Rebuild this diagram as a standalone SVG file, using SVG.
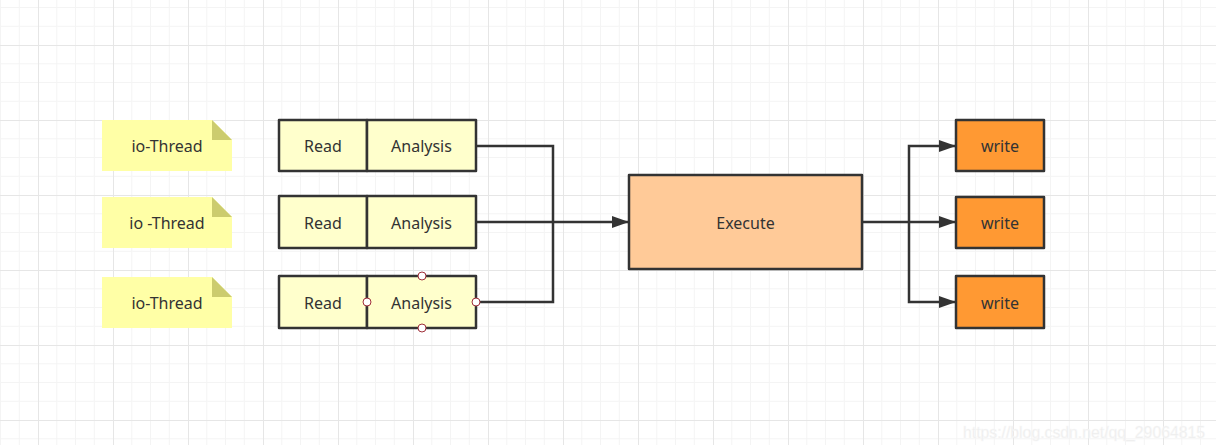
<svg xmlns="http://www.w3.org/2000/svg" width="1216" height="445" viewBox="0 0 1216 445">
<defs>
<pattern id="grid" x="38" y="45" width="75" height="75" patternUnits="userSpaceOnUse">
<path d="M18.75 0V75M37.5 0V75M56.25 0V75M0 18.75H75M0 37.5H75M0 56.25H75" stroke="#f4f4f4" stroke-width="1" fill="none"/>
<path d="M0.5 0V75M0 0.5H75" stroke="#e6e6e6" stroke-width="1" fill="none"/>
</pattern>
<marker id="arr" viewBox="0 0 17 12" refX="17" refY="6" markerWidth="17" markerHeight="12" markerUnits="userSpaceOnUse" orient="auto">
<path d="M0 0L17 6L0 12Z" fill="#333"/>
</marker>
<style>
text{font-family:"Noto Sans","Open Sans","Liberation Sans",sans-serif;font-size:16px;fill:#333;text-anchor:middle;dominant-baseline:central}
.box{stroke:#333;stroke-width:2.5;stroke-linejoin:round}
.rd{fill:#ffffcc}
.note{fill:#ffffa6}
.fold{fill:#cccc6e}
.ex{fill:#ffca98}
.wr{fill:#ff9933}
.conn{fill:none;stroke:#333;stroke-width:2.5}
.h{fill:#fff;stroke:#a0303a;stroke-width:1}
.wm{font-family:"Liberation Sans",sans-serif;font-size:16px;fill:#ececec;text-anchor:start;stroke:#f8f8f8;stroke-width:0.5}
</style>
</defs>
<rect width="1216" height="445" fill="#fff"/>
<rect width="1216" height="445" fill="url(#grid)"/>

<g id="note1"><path class="note" d="M102 120H212L232 140V171H102Z"/><path class="fold" d="M212 120L232 140H212Z"/><text x="167" y="146">io-Thread</text></g>
<g id="note2"><path class="note" d="M102 197H212L232 217V248H102Z"/><path class="fold" d="M212 197L232 217H212Z"/><text x="167" y="223">io -Thread</text></g>
<g id="note3"><path class="note" d="M102 277H212L232 297V328H102Z"/><path class="fold" d="M212 277L232 297H212Z"/><text x="167" y="303">io-Thread</text></g>

<g id="read1"><rect class="box rd" x="279" y="120" width="88" height="51"/><text x="323" y="146">Read</text></g>
<g id="analysis1"><rect class="box rd" x="367" y="120" width="109" height="51"/><text x="421.5" y="146">Analysis</text></g>
<g id="read2"><rect class="box rd" x="279" y="196" width="88" height="52"/><text x="323" y="223">Read</text></g>
<g id="analysis2"><rect class="box rd" x="367" y="196" width="109" height="52"/><text x="421.5" y="223">Analysis</text></g>
<g id="read3"><rect class="box rd" x="279" y="276" width="88" height="52"/><text x="323" y="303">Read</text></g>
<g id="analysis3"><rect class="box rd" x="367" y="276" width="109" height="52"/><text x="421.5" y="303">Analysis</text></g>

<g id="execute"><rect class="box ex" x="629" y="175" width="233" height="94"/><text x="745.5" y="223">Execute</text></g>

<g id="write1"><rect class="box wr" x="956" y="120" width="88" height="51"/><text x="1000" y="146">write</text></g>
<g id="write2"><rect class="box wr" x="956" y="197" width="88" height="51"/><text x="1000" y="223">write</text></g>
<g id="write3"><rect class="box wr" x="956" y="276" width="88" height="52"/><text x="1000" y="303">write</text></g>

<g id="connectors">
<path class="conn" d="M476 146H553V302H476"/>
<path class="conn" d="M476 222H629" marker-end="url(#arr)"/>
<path class="conn" d="M862 222H956" marker-end="url(#arr)"/>
<path class="conn" d="M909 222V146H956" marker-end="url(#arr)"/>
<path class="conn" d="M909 222V302H956" marker-end="url(#arr)"/>
</g>

<g id="handles">
<circle class="h" cx="422" cy="276" r="4"/>
<circle class="h" cx="367" cy="302" r="4"/>
<circle class="h" cx="476" cy="302" r="4"/>
<circle class="h" cx="422" cy="328" r="4"/>
</g>

<text class="wm" x="963" y="432" dominant-baseline="auto" textLength="242" lengthAdjust="spacingAndGlyphs">https://blog.csdn.net/qq_29064815</text>
</svg>
